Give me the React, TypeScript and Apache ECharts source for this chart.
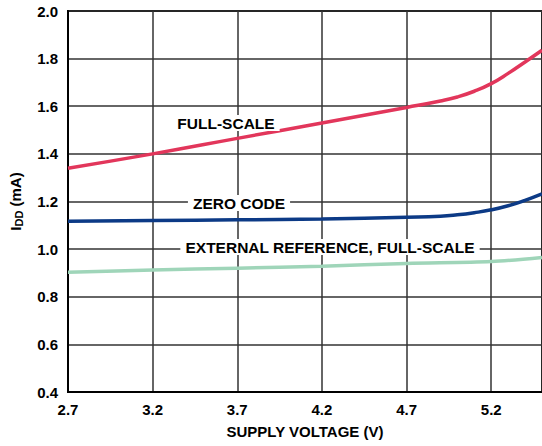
import React, { useEffect, useRef } from "react";
import * as echarts from "echarts";

const xFull = [2.7, 3.2, 3.7, 4.2, 4.7, 4.9, 5.0, 5.1, 5.2, 5.3, 5.4, 5.5];
const fullScale = [1.34, 1.40, 1.465, 1.53, 1.595, 1.622, 1.639, 1.663, 1.695, 1.738, 1.786, 1.835];

const xZero = [2.7, 3.2, 3.7, 4.2, 4.7, 4.9, 5.0, 5.1, 5.2, 5.3, 5.4, 5.5];
const zeroCode = [1.117, 1.12, 1.123, 1.127, 1.134, 1.138, 1.144, 1.153, 1.165, 1.182, 1.205, 1.232];

const xExt = [2.7, 3.2, 3.7, 4.2, 4.7, 5.2, 5.5];
const extRef = [0.903, 0.912, 0.92, 0.928, 0.94, 0.948, 0.965];

const FONT = "'Liberation Sans', Arial, Helvetica, sans-serif";

const zip = (xs: number[], ys: number[]) => xs.map((x, i) => [x, ys[i]]);

export default function App() {
  const ref = useRef<HTMLDivElement>(null);
  useEffect(() => {
    if (!ref.current) return;
    const chart = echarts.init(ref.current, null, { renderer: "svg" });
    const labelStyle = (text: string) => ({
      text,
      fill: "#000",
      font: `bold 15.5px ${FONT}`,
      align: "center",
      verticalAlign: "middle",
      backgroundColor: "#fff",
      padding: [0, 5],
    });
    chart.setOption({
      animation: false,
      grid: {
        left: 68,
        top: 11,
        right: -2,
        bottom: 54,
        show: true,
        borderColor: "#000",
        borderWidth: 2,
        backgroundColor: "#fff",
      },
      xAxis: {
        type: "value",
        min: 2.7,
        max: 5.5,
        interval: 0.5,
        name: "SUPPLY VOLTAGE (V)",
        nameLocation: "middle",
        nameGap: 32,
        nameTextStyle: { fontFamily: FONT, fontWeight: "bold", fontSize: 15, color: "#000" },
        axisLine: { show: true, lineStyle: { color: "#000", width: 2 } },
        axisTick: { show: false },
        axisLabel: {
          fontFamily: FONT,
          fontWeight: "bold",
          fontSize: 15,
          color: "#000",
          margin: 10,
          showMaxLabel: false,
          formatter: (v: number) => (Math.abs(v - 5.5) < 1e-6 ? "" : v.toFixed(1)),
        },
        splitLine: { show: true, lineStyle: { color: "#333", width: 1.5 } },
      },
      yAxis: {
        type: "value",
        min: 0.4,
        max: 2.0,
        interval: 0.2,
        name: "{a|I}{b|DD}{a| (mA)}",
        nameLocation: "middle",
        nameGap: 44,
        nameRotate: 90,
        nameTextStyle: {
          rich: {
            a: { fontFamily: FONT, fontWeight: "bold", fontSize: 15, color: "#000" },
            b: {
              fontFamily: FONT,
              fontWeight: "bold",
              fontSize: 11,
              color: "#000",
              verticalAlign: "bottom",
              padding: [6, 0, 0, 0],
            },
          },
        },
        axisLine: { show: true, lineStyle: { color: "#000", width: 2 } },
        axisTick: { show: false },
        axisLabel: {
          fontFamily: FONT,
          fontWeight: "bold",
          fontSize: 15,
          color: "#000",
          margin: 10,
          formatter: (v: number) => v.toFixed(1),
        },
        splitLine: { show: true, lineStyle: { color: "#333", width: 1.5 } },
      },
      series: [
        {
          name: "FULL-SCALE",
          type: "line",
          data: zip(xFull, fullScale),
          smooth: 0.5,
          symbol: "none",
          lineStyle: { color: "#e2365b", width: 3.5 },
          z: 5,
        },
        {
          name: "ZERO CODE",
          type: "line",
          data: zip(xZero, zeroCode),
          smooth: 0.5,
          symbol: "none",
          lineStyle: { color: "#0c3a86", width: 3.5 },
          z: 5,
        },
        {
          name: "EXTERNAL REFERENCE, FULL-SCALE",
          type: "line",
          data: zip(xExt, extRef),
          smooth: 0.3,
          symbol: "none",
          lineStyle: { color: "#9fd5b9", width: 3.5 },
          z: 5,
        },
      ],
      graphic: [
        { type: "text", x: 226, y: 123, z: 100, style: labelStyle("FULL-SCALE") },
        { type: "text", x: 239, y: 203, z: 100, style: labelStyle("ZERO CODE") },
        { type: "text", x: 330, y: 247, z: 100, style: labelStyle("EXTERNAL REFERENCE, FULL-SCALE") },
      ],
    });
    return () => chart.dispose();
  }, []);
  return <div ref={ref} style={{ width: 542, height: 446, position: "absolute", left: 0, top: 0 }} />;
}
